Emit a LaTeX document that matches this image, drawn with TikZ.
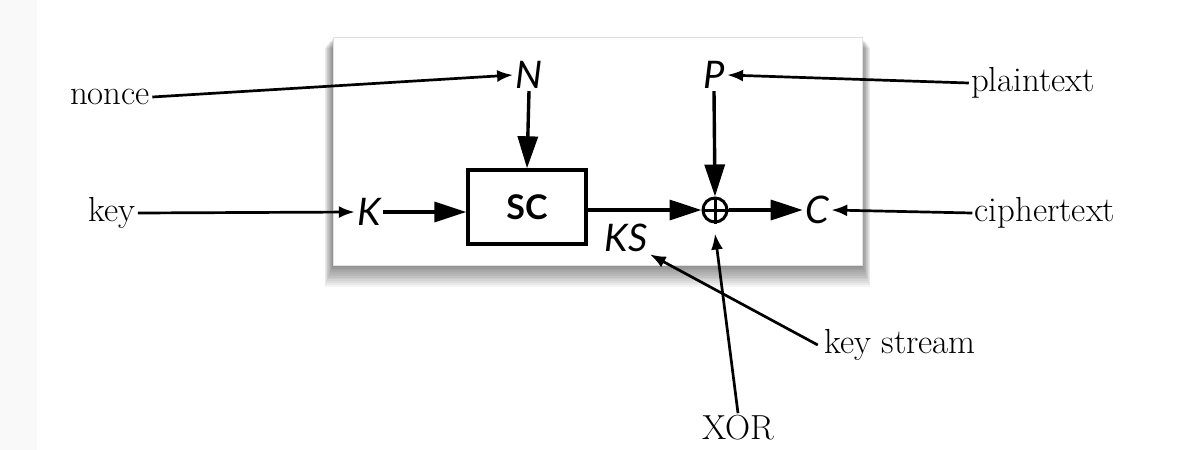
\documentclass[tikz,border=0pt]{standalone}
\usepackage{fontspec}
\newfontfamily\latofont{Lato}
\usetikzlibrary{arrows.meta}
\tikzset{
  lbl/.style={font=\fontsize{17.4}{20}\selectfont, inner sep=1pt},
  sym/.style={font=\latofont\itshape\fontsize{19}{22}\selectfont, inner sep=1pt},
  outarr/.style={-{Latex[length=8pt,width=6pt]}, line width=1.35pt},
  inarr/.style={-{Triangle[length=16pt,width=10pt]}, line width=1.7pt},
  scbox/.style={draw, line width=1.7pt, minimum width=59pt, minimum height=37pt, font=\latofont\bfseries\fontsize{17}{20}\selectfont},
  xorc/.style={circle, draw, line width=1.5pt, minimum size=12pt, inner sep=0pt}
}
\begin{document}
\begin{tikzpicture}[x=0.5pt, y=-0.5pt]
\useasboundingbox (0,0) rectangle (1184,450);
\fill[white] (0,0) rectangle (1184,450);
\fill[black!2.5] (0,0) rectangle (37,450);
% panel shadow
\foreach \i in {1,...,12} {
  \fill[black, opacity=0.045] (333-\i*0.7, 37+\i*0.9) rectangle (862+\i*0.7, 265+\i*1.8);
}
\fill[white] (333,37) rectangle (862,265);
\draw[black!12, line width=0.3pt] (333,37) rectangle (862,265);

% outer labels
\node[lbl] (nonce) at (110,97) {nonce};
\node[lbl] (key) at (112,213) {key};
\node[lbl] (plain) at (1033,83) {plaintext};
\node[lbl] (cipher) at (1045,213) {ciphertext};
\node[lbl] (kstream) at (900,345) {key stream};
\node[lbl] (xortext) at (738,428) {XOR};

% inner symbols
\node[sym] (N) at (529,75) {N};
\node[sym] (P) at (714,75) {P};
\node[sym] (K) at (369,212) {K};
\node[sym] (C) at (817,210) {C};
\node[sym] (KS) at (626,238) {KS};
\node[scbox] (SC) at (527,207) {SC};
\node[xorc] (X) at (715,210) {};
\draw[line width=1.5pt] (X.north) -- (X.south) (X.west) -- (X.east);

% inner arrows
\draw[inarr] (N.south) -- (SC.north);
\draw[inarr] (K.east) -- (SC.west |- K.east);
\draw[inarr] (SC.east |- X.west) -- (X.west);
\draw[inarr] (P.south) -- (X.north);
\draw[inarr] (X.east) -- (C.west);

% outer arrows
\draw[outarr] (nonce.east) -- (N.west);
\draw[outarr] (key.east) -- (K.west);
\draw[outarr] (plain.west) -- (P.east);
\draw[outarr] (cipher.west) -- (C.east);
\draw[outarr] ([xshift=-2pt]kstream.west) -- (KS.east |- KS.south);
\draw[outarr] (xortext.north) -- ([yshift=-5pt]X.south);
\end{tikzpicture}
\end{document}
